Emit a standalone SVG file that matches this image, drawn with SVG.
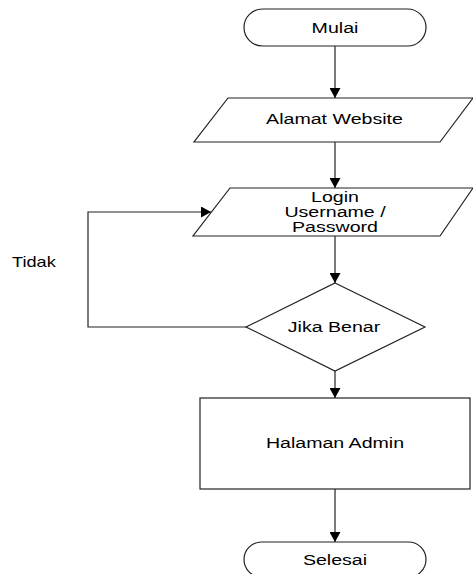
<svg xmlns="http://www.w3.org/2000/svg" width="473" height="574" viewBox="0 0 473 574">
<defs>
<marker id="arr" markerWidth="11" markerHeight="11" refX="10" refY="5.5" orient="auto" markerUnits="userSpaceOnUse">
<path d="M0,0 L10,5.5 L0,11 z" fill="#000"/>
</marker>
<style>
.shape{fill:#fff;stroke:#222;stroke-width:1.2}
.conn{fill:none;stroke:#222;stroke-width:1.2;marker-end:url(#arr)}
text{font-family:"Liberation Sans",Arial,sans-serif;font-size:14px;fill:#000}
.c{text-anchor:middle}
</style>
</defs>
<rect width="473" height="574" fill="#fff"/>
<g id="connectors">
<line class="conn" x1="335" y1="46" x2="335" y2="98"/>
<line class="conn" x1="335" y1="142" x2="335" y2="188"/>
<line class="conn" x1="335" y1="236" x2="335" y2="283"/>
<line class="conn" x1="335" y1="371" x2="335" y2="398"/>
<line class="conn" x1="335" y1="489" x2="335" y2="542"/>
<path class="conn" d="M246,327 H88 V212 H211"/>
<text transform="matrix(1.3 0 0 1 12 267)">Tidak</text>
</g>
<g id="mulai">
<rect class="shape" x="244" y="9" width="182" height="37" rx="18.5"/>
<text class="c" transform="matrix(1.4 0 0 1 335 33)">Mulai</text>
</g>
<g id="alamat">
<polygon class="shape" points="228,98 473,98 440,142 194,142"/>
<text class="c" transform="matrix(1.4 0 0 1 334.5 124)">Alamat Website</text>
</g>
<g id="login">
<polygon class="shape" points="230,188 473,188 440,236 193,236"/>
<text class="c" transform="matrix(1.4 0 0 1 335 202)">Login</text>
<text class="c" transform="matrix(1.4 0 0 1 335 217)">Username /</text>
<text class="c" transform="matrix(1.4 0 0 1 335 232)">Password</text>
</g>
<g id="jika">
<polygon class="shape" points="335,283 425,327 335,371 246,327"/>
<text class="c" transform="matrix(1.4 0 0 1 334 332)">Jika Benar</text>
</g>
<g id="halaman">
<rect class="shape" x="200" y="398" width="270" height="91"/>
<text class="c" transform="matrix(1.4 0 0 1 335 448)">Halaman Admin</text>
</g>
<g id="selesai">
<rect class="shape" x="244" y="542" width="182" height="35" rx="17.5"/>
<text class="c" transform="matrix(1.4 0 0 1 335 565)">Selesai</text>
</g>
</svg>
